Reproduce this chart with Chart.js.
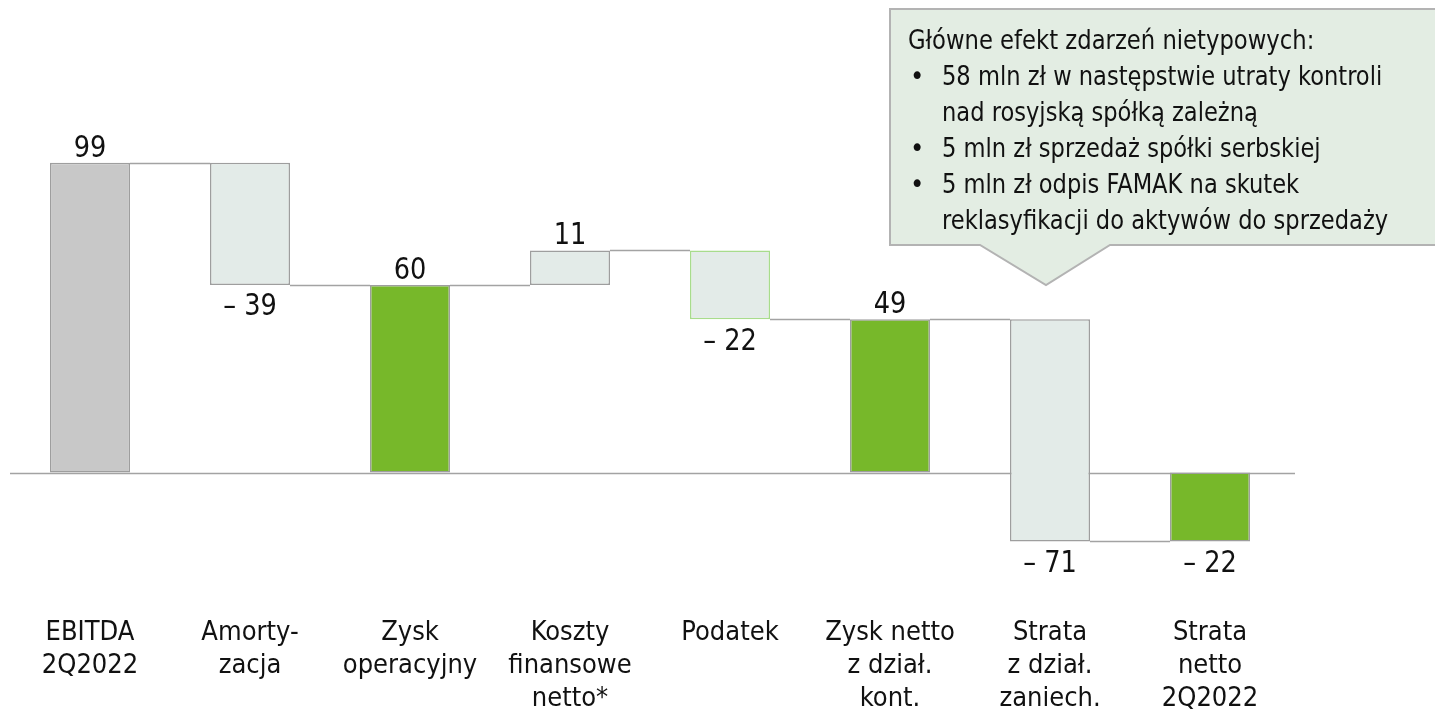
<!DOCTYPE html>
<html>
<head>
<meta charset="utf-8">
<script src="https://cdn.jsdelivr.net/npm/chart.js@4.4.0/dist/chart.umd.min.js"></script>
<style>
  html, body { margin: 0; padding: 0; background: #fff; }
  #wrap { width: 1435px; height: 719px; position: relative; }
</style>
</head>
<body>
<div id="wrap"><canvas id="chart" width="1435" height="719"></canvas></div>
<script>
// --- Data ---
const categories = [
    ['EBITDA', '2Q2022'],
    ['Amorty-', 'zacja'],
    ['Zysk', 'operacyjny'],
    ['Koszty', 'finansowe', 'netto*'],
    ['Podatek'],
    ['Zysk netto', 'z dział.', 'kont.'],
    ['Strata', 'z dział.', 'zaniech.'],
    ['Strata', 'netto', '2Q2022']
];
const values = [99, -39, 60, 11, -22, 49, -71, -22];
const isTotal = [true, false, true, false, false, true, false, true];

const calloutTitle = 'Główne efekt zdarzeń nietypowych:';
const calloutBullets = [
    ['58 mln zł w następstwie utraty kontroli', 'nad rosyjską spółką zależną'],
    ['5 mln zł sprzedaż spółki serbskiej'],
    ['5 mln zł odpis FAMAK na skutek', 'reklasyfikacji do aktywów do sprzedaży']
];

// --- Styles ---
const FONT = "'Liberation Sans Narrow', 'DejaVu Sans Condensed', 'Arial Narrow', sans-serif";
const lineColor = '#a3a3a3';
const fills = ['#c8c8c8', '#e3ebe8', '#77b82a', '#e3ebe8', '#e3ebe8', '#77b82a', '#e3ebe8', '#77b82a'];
const borders = ['#9e9e9e', '#9e9e9e', '#9e9e9e', '#9e9e9e', '#a8dc8c', '#9e9e9e', '#9e9e9e', '#9e9e9e'];

// build floating ranges from running level
const ranges = [];
const levels = [];
let level = 0;
values.forEach((v, i) => {
    if (isTotal[i]) {
        ranges.push([0, v]);
        level = v;
    } else {
        ranges.push([level, level + v]);
        level = level + v;
    }
    levels.push(level);
});

// --- Plugins ---
const connectors = {
    id: 'connectors',
    beforeDatasetsDraw(chart) {
        const { ctx, chartArea, scales: { y } } = chart;
        const bars = chart.getDatasetMeta(0).data;
        ctx.save();
        ctx.strokeStyle = lineColor;
        ctx.lineWidth = 1.5;
        // zero line
        const y0 = Math.round(y.getPixelForValue(0)) + 0.5;
        ctx.beginPath();
        ctx.moveTo(chartArea.left, y0);
        ctx.lineTo(chartArea.right + 5, y0);
        ctx.stroke();
        for (let i = 0; i < bars.length - 1; i++) {
            const yy = Math.round(y.getPixelForValue(levels[i])) + 0.5;
            ctx.beginPath();
            ctx.moveTo(bars[i].x + bars[i].width / 2, yy);
            ctx.lineTo(bars[i + 1].x - bars[i + 1].width / 2, yy);
            ctx.stroke();
        }
        ctx.restore();
    }
};

// narrow text helper (the source font is condensed)
function narrowText(ctx, text, x, y, sx) {
    ctx.save();
    ctx.translate(x, y);
    ctx.scale(sx, 1);
    ctx.fillText(text, 0, 0);
    ctx.restore();
}

const valueLabels = {
    id: 'valueLabels',
    afterDatasetsDraw(chart) {
        const { ctx, scales: { y } } = chart;
        const bars = chart.getDatasetMeta(0).data;
        ctx.save();
        ctx.font = '31px ' + FONT;
        ctx.fillStyle = '#111';
        ctx.textAlign = 'center';
        bars.forEach((bar, i) => {
            const v = values[i];
            const r = ranges[i];
            if (v >= 0) {
                ctx.textBaseline = 'alphabetic';
                narrowText(ctx, String(v), bar.x, y.getPixelForValue(Math.max(r[0], r[1])) - 6, 0.92);
            } else {
                ctx.textBaseline = 'top';
                narrowText(ctx, '– ' + Math.abs(v), bar.x, y.getPixelForValue(Math.min(r[0], r[1])) + 7, 0.92);
            }
        });
        ctx.restore();
    }
};

const callout = {
    id: 'callout',
    afterDraw(chart) {
        const ctx = chart.ctx;
        ctx.save();
        ctx.fillStyle = '#e3ede3';
        ctx.strokeStyle = '#b3b3b3';
        ctx.lineWidth = 2;
        ctx.beginPath();
        ctx.moveTo(890, 9);
        ctx.lineTo(1440, 9);
        ctx.lineTo(1440, 245);
        ctx.lineTo(1110, 245);
        ctx.lineTo(1046, 285);
        ctx.lineTo(980, 245);
        ctx.lineTo(890, 245);
        ctx.closePath();
        ctx.fill();
        ctx.stroke();

        ctx.fillStyle = '#111';
        ctx.font = '27px ' + FONT;
        ctx.textAlign = 'left';
        ctx.textBaseline = 'middle';
        let ty = 42;
        const step = 36;
        narrowText(ctx, calloutTitle, 908, ty, 0.935);
        calloutBullets.forEach(lines => {
            lines.forEach((t, j) => {
                ty += step;
                if (j === 0) ctx.fillText('•', 910, ty);
                narrowText(ctx, t, 942, ty, 0.93);
            });
        });
        ctx.restore();
    }
};

// --- Chart ---
const ctx = document.getElementById('chart').getContext('2d');
const chart = new Chart(ctx, {
    type: 'bar',
    data: {
        labels: categories,
        datasets: [{
            data: ranges,
            backgroundColor: fills,
            borderColor: borders,
            borderWidth: 1.5,
            borderSkipped: false,
            barPercentage: 0.5,
            categoryPercentage: 1.0
        }]
    },
    options: {
        responsive: false,
        animation: false,
        layout: { padding: { left: 10, right: 145, top: 3, bottom: 0 } },
        plugins: {
            legend: { display: false },
            tooltip: { enabled: false }
        },
        scales: {
            x: {
                grid: { display: false, drawTicks: false },
                border: { display: false },
                ticks: {
                    color: '#111',
                    padding: 3,
                    maxRotation: 0,
                    autoSkip: false,
                    font: { family: FONT, size: 27, lineHeight: 1.23 }
                }
            },
            y: {
                display: false,
                min: -45,
                max: 150.1
            }
        }
    },
    plugins: [connectors, valueLabels, callout]
});
</script>
</body>
</html>
